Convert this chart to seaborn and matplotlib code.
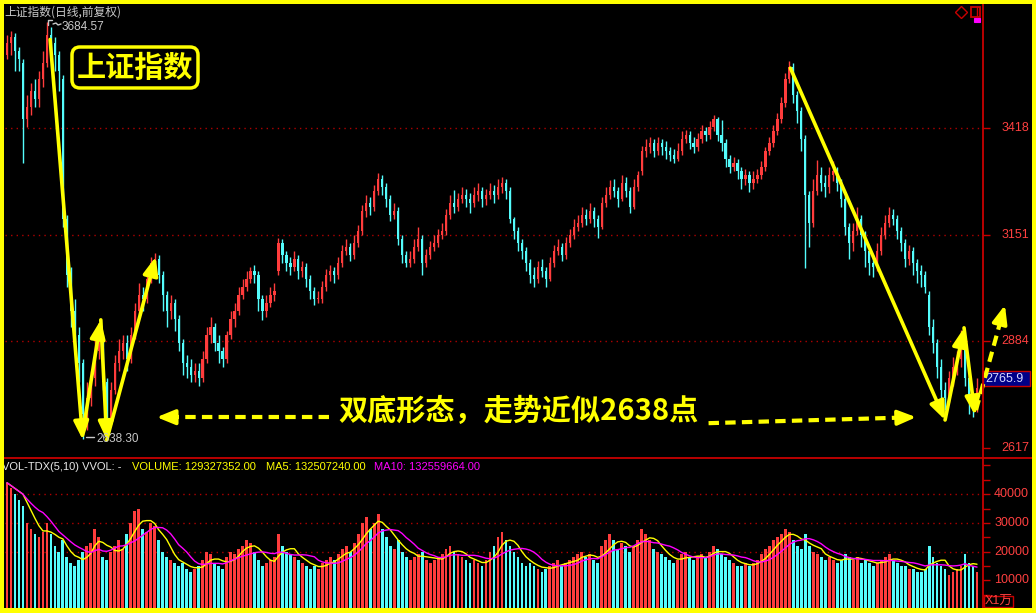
import numpy as np
import pandas as pd
import matplotlib
matplotlib.use("Agg")
import matplotlib.pyplot as plt
import seaborn as sns
from matplotlib.patches import Rectangle, FancyBboxPatch
from matplotlib.transforms import blended_transform_factory

# ---------------- data ----------------
opens = [
3600,3630,3645,3610,3580,3440,3470,3510,3490,3540,
3580,3650,3630,3600,3540,3190,3050,2960,2900,2830,
2700,2740,2790,2860,2880,2780,2690,2760,2830,2860,
2880,2840,2900,2960,3000,2990,3040,3080,3090,3050,
3000,2960,2980,2940,2880,2830,2820,2800,2810,2790,
2840,2900,2920,2880,2860,2840,2900,2940,2960,3000,
3020,3040,3060,3050,2990,2960,2980,3000,3060,3130,
3100,3080,3070,3090,3060,3070,3040,3010,2990,2990,
3020,3050,3060,3050,3080,3110,3120,3100,3130,3160,
3210,3230,3220,3260,3290,3270,3240,3200,3210,3140,
3100,3080,3090,3120,3140,3080,3100,3120,3130,3150,
3160,3200,3230,3220,3240,3250,3240,3230,3250,3260,
3240,3250,3260,3250,3270,3280,3260,3190,3160,3130,
3110,3080,3050,3040,3070,3060,3040,3080,3110,3120,
3100,3130,3150,3170,3180,3200,3190,3210,3190,3170,
3230,3250,3270,3260,3240,3280,3260,3220,3270,3310,
3360,3370,3380,3360,3380,3370,3360,3350,3340,3360,
3390,3400,3380,3370,3390,3410,3400,3420,3440,3400,
3380,3340,3320,3330,3310,3290,3300,3280,3290,3300,
3320,3360,3380,3410,3440,3480,3540,3570,3500,3460,
3390,3250,3180,3260,3300,3280,3270,3300,3310,3280,
3240,3170,3130,3160,3190,3150,3110,3080,3070,3110,
3150,3180,3200,3190,3160,3130,3090,3110,3080,3060,
3050,3000,2920,2880,2820,2760,2740,2790,2820,2840,
2870,2790,2730,2720]
closes = [
3630,3645,3610,3590,3440,3470,3510,3490,3540,3580,
3650,3630,3600,3560,3190,3050,2960,2900,2830,2700,
2740,2780,2860,2880,2780,2690,2760,2830,2860,2880,
2840,2900,2960,3000,2990,3040,3080,3090,3050,3000,
2960,2980,2940,2880,2830,2820,2800,2810,2790,2840,
2900,2920,2880,2860,2840,2900,2940,2960,3000,3020,
3040,3060,3050,2990,2960,2980,3000,3010,3130,3100,
3080,3070,3090,3060,3070,3040,3010,2990,2990,3020,
3050,3060,3050,3080,3110,3120,3100,3130,3160,3210,
3230,3220,3260,3290,3270,3240,3200,3210,3140,3100,
3080,3090,3120,3140,3080,3100,3120,3130,3150,3160,
3200,3230,3220,3240,3250,3240,3230,3250,3260,3240,
3250,3260,3250,3270,3280,3260,3190,3160,3130,3110,
3080,3050,3040,3070,3060,3040,3080,3110,3120,3100,
3130,3150,3170,3180,3200,3190,3210,3190,3170,3230,
3250,3270,3260,3240,3280,3260,3220,3270,3300,3360,
3370,3380,3360,3380,3370,3360,3350,3340,3360,3390,
3400,3380,3370,3390,3410,3400,3420,3440,3400,3380,
3340,3320,3330,3310,3290,3300,3280,3290,3300,3320,
3360,3380,3410,3440,3480,3540,3570,3500,3460,3390,
3250,3180,3260,3300,3280,3270,3300,3310,3280,3240,
3170,3130,3160,3190,3150,3110,3080,3070,3110,3150,
3180,3200,3190,3160,3130,3090,3110,3080,3060,3050,
3020,2920,2880,2820,2760,2740,2790,2820,2840,2870,
2790,2730,2720,2766]
highs = [
3650,3660,3655,3620,3590,3500,3530,3540,3560,3610,
3684,3670,3645,3610,3550,3200,3070,2990,2920,2840,
2780,2810,2890,2930,2900,2790,2780,2850,2890,2900,
2900,2920,2980,3030,3020,3060,3095,3105,3100,3060,
3010,3000,2990,2950,2890,2850,2840,2830,2830,2860,
2920,2945,2930,2900,2870,2910,2960,2980,3020,3040,
3060,3070,3075,3060,3000,3000,3020,3030,3142,3140,
3110,3095,3110,3100,3085,3080,3050,3020,3010,3035,
3065,3075,3070,3095,3125,3140,3130,3150,3175,3225,
3250,3245,3275,3305,3300,3280,3250,3230,3220,3150,
3110,3110,3140,3170,3150,3115,3135,3150,3165,3180,
3215,3250,3262,3255,3270,3265,3255,3270,3280,3270,
3265,3280,3275,3290,3295,3290,3270,3195,3170,3140,
3120,3090,3070,3085,3090,3070,3095,3125,3140,3130,
3145,3165,3190,3200,3220,3215,3230,3220,3200,3245,
3270,3288,3290,3270,3300,3295,3270,3290,3310,3372,
3390,3395,3390,3395,3390,3385,3370,3365,3380,3410,
3413,3410,3395,3405,3425,3420,3435,3450,3445,3438,
3390,3350,3345,3340,3320,3315,3310,3310,3315,3335,
3370,3395,3425,3455,3495,3555,3587,3580,3510,3470,
3400,3260,3290,3338,3320,3300,3320,3335,3320,3290,
3250,3180,3180,3220,3200,3160,3120,3100,3130,3170,
3200,3220,3215,3200,3170,3140,3125,3120,3090,3075,
3060,3010,2940,2890,2840,2780,2810,2845,2860,2912,
2880,2800,2750,2790]
lows = [
3590,3600,3560,3560,3330,3420,3450,3470,3470,3520,
3570,3600,3560,3510,3170,3020,2920,2860,2780,2638,
2660,2720,2770,2840,2760,2655,2680,2750,2810,2840,
2810,2830,2890,2950,2960,2980,3030,3060,3030,2960,
2920,2940,2910,2860,2800,2790,2780,2780,2770,2780,
2830,2880,2860,2830,2820,2830,2890,2920,2950,2990,
3010,3030,3030,2960,2937,2945,2970,2985,3050,3080,
3060,3050,3060,3040,3045,3020,2990,2975,2979,2980,
3010,3035,3030,3040,3070,3100,3085,3090,3120,3150,
3195,3200,3210,3250,3250,3220,3185,3190,3125,3080,
3069,3070,3080,3110,3049,3070,3090,3110,3120,3140,
3150,3190,3205,3210,3230,3220,3205,3220,3235,3220,
3225,3240,3230,3240,3255,3240,3180,3140,3110,3090,
3060,3030,3020,3030,3045,3020,3035,3070,3100,3085,
3090,3120,3140,3160,3170,3175,3180,3170,3142,3165,
3220,3240,3245,3220,3235,3245,3205,3215,3260,3300,
3345,3355,3345,3350,3350,3340,3335,3330,3335,3350,
3380,3365,3355,3360,3380,3385,3390,3410,3385,3360,
3320,3305,3310,3290,3265,3275,3258,3265,3280,3290,
3310,3350,3370,3400,3430,3470,3530,3480,3430,3360,
3067,3120,3170,3250,3260,3245,3255,3285,3260,3220,
3150,3090,3110,3150,3120,3070,3050,3044,3060,3100,
3140,3170,3175,3140,3110,3070,3075,3050,3030,3020,
3005,2900,2854,2790,2730,2711,2730,2770,2800,2820,
2770,2700,2693,2705]
volumes = [
44000,42000,40000,38000,36000,30000,28000,26000,25000,27000,
30000,26000,22000,20000,24000,18000,16000,15000,17000,20000,
22000,23000,28000,25000,18000,17000,20000,22000,24000,21000,
26000,30000,34000,35000,28000,27000,30000,29000,24000,20000,
18000,17000,16000,15000,16000,14000,13000,14000,15000,17000,
20000,19000,16000,15000,14000,18000,20000,19000,21000,22000,
24000,23000,20000,17000,15000,16000,17000,18000,26000,22000,
20000,19000,18000,17000,16000,15000,14000,15000,14000,16000,
17000,18000,17000,19000,21000,22000,20000,23000,26000,30000,
32000,28000,30000,33000,28000,25000,22000,21000,24000,20000,
18000,17000,18000,19000,20000,17000,16000,17000,18000,19000,
21000,22000,20000,19000,18000,17000,16000,17000,16000,15000,
17000,20000,22000,25000,27000,24000,22000,20000,18000,16000,
15000,16000,15000,14000,13000,14000,15000,16000,17000,15000,
16000,17000,18000,19000,20000,18000,19000,17000,16000,22000,
24000,26000,24000,21000,23000,22000,20000,22000,24000,28000,
26000,24000,21000,20000,19000,18000,17000,16000,17000,19000,
20000,18000,17000,18000,19000,18000,20000,22000,21000,19000,
18000,17000,16000,15000,15000,16000,15000,16000,17000,19000,
21000,22000,24000,25000,26000,28000,27000,24000,22000,21000,
26000,22000,20000,19000,18000,17000,18000,17000,16000,17000,
19000,18000,17000,18000,16000,17000,16000,15000,16000,17000,
18000,19000,17000,16000,15000,15000,14000,14000,13000,13000,
14000,22000,18000,16000,15000,14000,12000,13000,14000,15000,
19000,16000,15000,13000]
price_ticks = [3418, 3151, 2884, 2617]
price_grid = [3418, 3151, 2884]
vol_labels = [40000, 30000, 20000, 10000]
vol_grid = [40000, 30000, 20000]
high_label, low_label = "3684.57", "2638.30"
last_price = "2765.9"
title_text = "上证指数(日线,前复权)"
vol_header = ["VOL-TDX(5,10) VVOL: -", "VOLUME: 129327352.00",
              "MA5: 132507240.00", "MA10: 132559664.00"]

# ---------------- style ----------------
sns.set_style("dark", {"axes.facecolor": "black", "figure.facecolor": "black"})
plt.rcParams["font.family"] = ["Liberation Sans", "Noto Sans CJK SC", "DejaVu Sans"]
CJK = ["Noto Sans CJK SC", "DejaVu Sans"]
RED = "#ff3c3c"
CYAN = "#54fcfc"
AXRED = "#c80000"
GRID = "#b00000"
YEL = "#ffff00"
MAG = "#ff00ff"
GRAY = "#c8c8c8"

W, H = 1036, 613
fig = plt.figure(figsize=(W / 100, H / 100), dpi=100, facecolor="black")


def rect(l, t, r, b):
    return [l / W, 1 - b / H, (r - l) / W, (b - t) / H]


axp = fig.add_axes(rect(5, 4, 983, 458))
axv = fig.add_axes(rect(5, 458, 983, 608), sharex=axp)
ov = fig.add_axes([0, 0, 1, 1])
ov.set_xlim(0, W)
ov.set_ylim(H, 0)
ov.axis("off")
ov.patch.set_alpha(0)
ov.set_zorder(5)

O = np.array(opens, float)
C = np.array(closes, float)
Hh = np.array(highs, float)
Ll = np.array(lows, float)
V = np.array(volumes, float)
N = len(C)
idx = np.arange(N)
up = C >= O
cols = np.where(up, RED, CYAN)

# candles
axp.vlines(idx, Ll, Hh, colors=cols, lw=1, zorder=2)
axp.bar(idx, np.maximum(np.abs(C - O), 2.0), bottom=np.minimum(O, C),
        width=0.55, color=cols, linewidth=0, zorder=3)
for p in price_grid:
    axp.axhline(p, color=GRID, ls=(0, (1, 3)), lw=1, zorder=1)
axp.set_xlim(-0.5, N + 0.5)
axp.set_ylim(3418 - (458 - 128) * 2.507, 3418 + (128 - 4) * 2.507)

# volume
axv.bar(idx, V, width=0.7, color=cols, linewidth=0, zorder=2)
df = pd.DataFrame({"i": idx,
                   "ma5": pd.Series(V).rolling(5, min_periods=1).mean(),
                   "ma10": pd.Series(V).rolling(10, min_periods=1).mean()})
sns.lineplot(data=df, x="i", y="ma5", ax=axv, color=YEL, lw=1, zorder=3)
sns.lineplot(data=df, x="i", y="ma10", ax=axv, color=MAG, lw=1, zorder=3)
for v in vol_grid:
    axv.axhline(v, color=GRID, ls=(0, (1, 3)), lw=1, zorder=1)
axv.set_ylim(348, 52613)

for ax in (axp, axv):
    ax.set_facecolor("black")
    for s in ax.spines.values():
        s.set_visible(False)
    ax.grid(False)
    ax.set_xlabel("")
    ax.set_ylabel("")
    ax.tick_params(axis="x", bottom=False, labelbottom=False)
    ax.yaxis.tick_right()
    ax.tick_params(axis="y", colors=AXRED, length=5, width=1,
                   labelright=False, labelleft=False)
axp.set_yticks(price_ticks)
axv.set_yticks(np.arange(5000, 50001, 5000))

tp = blended_transform_factory(fig.transFigure, axp.transData)
for p in price_ticks:
    axp.text(1029 / W, p, str(p), transform=tp, ha="right", va="center",
             color="#ff4040", fontsize=9, clip_on=False)
tv = blended_transform_factory(fig.transFigure, axv.transData)
for v in vol_labels:
    axv.text(1029 / W, v, str(v), transform=tv, ha="right", va="center",
             color="#ff4040", fontsize=9, clip_on=False)

# price tag (in pixel coords, drawn on the price axes so the arrow can go over it)
tag = Rectangle((983, 371), 47, 15, transform=ov.transData, fc="#000088",
                ec=AXRED, lw=1, clip_on=False, zorder=6)
axp.add_patch(tag)
axp.text(985, 379, last_price, transform=ov.transData, color="#d8d8ff",
         fontsize=9, va="center", ha="left", clip_on=False, zorder=7)

# ---------------- arrows ----------------
HEAD = "-|>,head_length=1.1,head_width=0.45"


def arrow(x0, y0, x1, y1):
    axp.annotate("", xy=(x1, y1), xytext=(x0, y0), annotation_clip=False,
                 arrowprops=dict(arrowstyle=HEAD, color=YEL, lw=2.6,
                                 shrinkA=0, shrinkB=0, mutation_scale=10),
                 zorder=8)


def dashed_arrow(x0, y0, x1, y1, frac):
    xm = x0 + frac * (x1 - x0)
    ym = y0 + frac * (y1 - y0)
    axp.plot([x0, xm], [y0, ym], color=YEL, lw=3, ls=(0, (2.5, 1.5)),
             solid_capstyle="butt", clip_on=False, zorder=8)
    arrow(xm, ym, x1, y1)


arrow(10.8, 3640, 19.0, 2636)
arrow(19.5, 2686, 23.5, 2937)
arrow(23.5, 2937, 25.0, 2636)
arrow(25.0, 2636, 37.25, 3095)
arrow(196.25, 3568, 235.0, 2686)
arrow(235.0, 2686, 239.75, 2917)
arrow(239.75, 2917, 242.5, 2698)
dashed_arrow(242.75, 2711, 250.0, 2974, 0.82)
dashed_arrow(80.75, 2693, 37.5, 2693, 0.9)
dashed_arrow(175.75, 2678, 227.75, 2693, 0.93)

# ---------------- overlay decorations (pixel coords) ----------------
ov.text(519, 411, "双底形态，走势近似2638点", ha="center", va="center",
        fontsize=21, fontweight="bold", color=YEL, family=CJK)
ov.add_patch(FancyBboxPatch((72, 47), 126, 41,
                            boxstyle="round,pad=0,rounding_size=8",
                            fc="black", ec=YEL, lw=2.5))
ov.text(135, 68, "上证指数", ha="center", va="center", fontsize=21,
        fontweight="bold", color=YEL, family=CJK)

ov.text(4, 12, title_text, ha="left", va="center", fontsize=8.5,
        color=GRAY, family=CJK)
ov.plot([48, 48, 52], [25, 20, 20], color=GRAY, lw=1)
ov.plot([53, 56, 58, 61], [24, 23, 25, 24], color=GRAY, lw=1)
ov.text(62, 27, high_label, ha="left", va="center", fontsize=8.5, color=GRAY)
ov.plot([86, 94], [437, 437], color=GRAY, lw=1)
ov.text(96, 439.5, low_label, ha="left", va="center", fontsize=8.5, color=GRAY)

hx = [2, 132, 266, 374]
hc = ["#e8e8e8", YEL, YEL, MAG]
for x, s, c in zip(hx, vol_header, hc):
    ov.text(x, 467, s, ha="left", va="center", fontsize=8, color=c)

# separators
ov.plot([983, 983], [3, 608], color=AXRED, lw=1.3)
ov.plot([3, 1032], [458, 458], color=AXRED, lw=1.3)

# X1万 box
ov.add_patch(Rectangle((984, 596), 29, 11, fc="none", ec=AXRED, lw=1))
ov.text(998.5, 602, "X1万", ha="center", va="center", fontsize=9,
        color="#ff4040", family=["Liberation Sans", "Noto Sans CJK SC"])

# top-right icons
ov.plot([960.5], [11.5], marker="D", ms=6, mfc="none", mec=AXRED, mew=1)
ov.add_patch(Rectangle((970.5, 6.5), 9, 10, fc="none", ec=AXRED, lw=1.3))
ov.plot([976.5, 976.5], [6.5, 16.5], color=AXRED, lw=1)
ov.add_patch(Rectangle((974, 18), 6, 4, fc=MAG, ec=MAG, lw=0.8))

# yellow frame
for r in [(0, 0, 3.5, H), (0, 0, W, 3.5), (1031.5, 0, 4.5, H), (0, 607.5, W, 5.5)]:
    ov.add_patch(Rectangle((r[0], r[1]), r[2], r[3], fc=YEL, ec="none", zorder=10))

fig.savefig("out.png", dpi=100, facecolor="black")
